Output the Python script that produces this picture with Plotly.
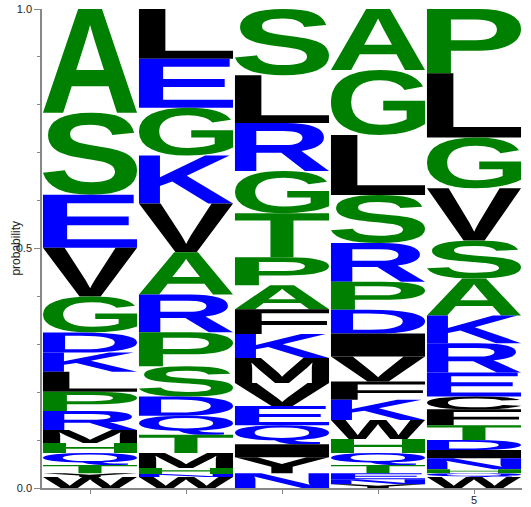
import glob
import struct
import subprocess
import plotly.graph_objects as go

# letter stacks per position, listed from the top of the column down
pos1_letters = ['A', 'S', 'E', 'V', 'G', 'D', 'K', 'L', 'P', 'R', 'M', 'H', 'Q', 'T', 'Y', 'W']
pos1_probs = [.217, .171, .111, .102, .075, .042, .040, .042, .040, .040, .027, .021, .025, .017, .008, .023]

pos2_letters = ['L', 'E', 'G', 'K', 'V', 'A', 'R', 'P', 'S', 'D', 'Q', 'T', 'M', 'H', 'N', 'W']
pos2_probs = [.104, .102, .100, .100, .102, .088, .079, .071, .063, .040, .040, .038, .031, .013, .006, .023]

pos3_letters = ['S', 'L', 'R', 'G', 'T', 'P', 'A', 'F', 'K', 'M', 'V', 'E', 'Q', 'I', 'Y', 'N']
pos3_probs = [.138, .100, .100, .088, .092, .058, .050, .052, .050, .052, .048, .040, .040, .027, .033, .031]

pos4_letters = ['A', 'G', 'L', 'S', 'R', 'P', 'D', 'I', 'V', 'F', 'K', 'W', 'H', 'Q', 'T', 'E', 'N', 'Y']
pos4_probs = [.127, .136, .125, .100, .081, .058, .050, .048, .052, .038, .042, .040, .029, .025, .017, .013, .010, .008]

pos5_letters = ['P', 'L', 'G', 'V', 'S', 'A', 'K', 'R', 'E', 'C', 'F', 'T', 'D', 'I', 'N', 'H', 'Q', 'W']
pos5_probs = [.134, .134, .106, .109, .079, .077, .058, .061, .050, .027, .033, .031, .021, .017, .023, .008, .008, .023]

positions = [1, 2, 3, 4, 5]
stacks = [(pos1_letters, pos1_probs), (pos2_letters, pos2_probs), (pos3_letters, pos3_probs),
          (pos4_letters, pos4_probs), (pos5_letters, pos5_probs)]

GREEN, BLUE, BLACK = '#008000', '#0000ff', '#000000'
colors = {}
for c in 'ASGPTH':
    colors[c] = GREEN
for c in 'ERKDQN':
    colors[c] = BLUE
for c in 'LVMFIWYC':
    colors[c] = BLACK


def find_font():
    for pat in ['/usr/share/fonts/**/LiberationSans-Bold.ttf',
                '/usr/share/fonts/**/DejaVuSans-Bold.ttf',
                '/usr/local/share/fonts/**/*Bold.ttf']:
        r = glob.glob(pat, recursive=True)
        if r:
            return r[0]
    try:
        out = subprocess.run(['fc-match', '-f', '%{file}', 'Liberation Sans:bold'],
                             capture_output=True, text=True).stdout
        if out.endswith('.ttf'):
            return out
    except Exception:
        pass
    return None


# minimal truetype reader: glyph outlines for the letters we need
def load_glyphs(path, chars):
    data = open(path, 'rb').read()
    ntab = struct.unpack('>H', data[4:6])[0]
    tables = {}
    for i in range(ntab):
        tag, _, off, ln = struct.unpack('>4sIII', data[12 + 16 * i:28 + 16 * i])
        tables[tag.decode('latin1')] = off
    head = tables['head']
    locfmt = struct.unpack('>h', data[head + 50:head + 52])[0]
    maxp = tables['maxp']
    ng = struct.unpack('>H', data[maxp + 4:maxp + 6])[0]
    lo = tables['loca']
    if locfmt == 0:
        loca = [2 * v for v in struct.unpack('>%dH' % (ng + 1), data[lo:lo + 2 * (ng + 1)])]
    else:
        loca = list(struct.unpack('>%dI' % (ng + 1), data[lo:lo + 4 * (ng + 1)]))

    cm = tables['cmap']
    nsub = struct.unpack('>H', data[cm + 2:cm + 4])[0]
    f4 = None
    for i in range(nsub):
        pid, eid, off = struct.unpack('>HHI', data[cm + 4 + 8 * i:cm + 12 + 8 * i])
        if struct.unpack('>H', data[cm + off:cm + off + 2])[0] == 4:
            f4 = cm + off
            break
    s2 = struct.unpack('>H', data[f4 + 6:f4 + 8])[0]
    n = s2 // 2
    ends = struct.unpack('>%dH' % n, data[f4 + 14:f4 + 14 + s2])
    starts = struct.unpack('>%dH' % n, data[f4 + 16 + s2:f4 + 16 + 2 * s2])
    deltas = struct.unpack('>%dh' % n, data[f4 + 16 + 2 * s2:f4 + 16 + 3 * s2])
    rpos = f4 + 16 + 3 * s2
    ros = struct.unpack('>%dH' % n, data[rpos:rpos + s2])

    def gid(ch):
        code = ord(ch)
        for i in range(n):
            if starts[i] <= code <= ends[i]:
                if ros[i] == 0:
                    return (code + deltas[i]) & 0xFFFF
                a = rpos + 2 * i + ros[i] + 2 * (code - starts[i])
                g = struct.unpack('>H', data[a:a + 2])[0]
                return (g + deltas[i]) & 0xFFFF if g else 0
        return 0

    glyf = tables['glyf']
    result = {}
    for ch in chars:
        off = glyf + loca[gid(ch)]
        nc, xmin, ymin, xmax, ymax = struct.unpack('>hhhhh', data[off:off + 10])
        if nc <= 0:
            continue
        p = off + 10
        endpts = struct.unpack('>%dH' % nc, data[p:p + 2 * nc])
        p += 2 * nc
        ilen = struct.unpack('>H', data[p:p + 2])[0]
        p += 2 + ilen
        npts = endpts[-1] + 1
        flags = []
        while len(flags) < npts:
            f = data[p]
            p += 1
            flags.append(f)
            if f & 8:
                r = data[p]
                p += 1
                flags.extend([f] * r)
        coords = []
        for short, same in ((2, 16), (4, 32)):
            v, vals = 0, []
            for f in flags:
                if f & short:
                    d = data[p]
                    p += 1
                    v += d if f & same else -d
                elif not f & same:
                    v += struct.unpack('>h', data[p:p + 2])[0]
                    p += 2
                vals.append(v)
            coords.append(vals)
        xs, ys = coords
        contours, s = [], 0
        for e in endpts:
            contours.append([(xs[i], ys[i], flags[i] & 1) for i in range(s, e + 1)])
            s = e + 1
        result[ch] = (contours, (xmin, ymin, xmax, ymax))
    return result


def glyph_path(glyph, x0, x1, y0, y1):
    contours, (xmin, ymin, xmax, ymax) = glyph

    def tf(pt):
        return '%.5f,%.5f' % (x0 + (pt[0] - xmin) / (xmax - xmin) * (x1 - x0),
                              y0 + (pt[1] - ymin) / (ymax - ymin) * (y1 - y0))

    parts = []
    for pts in contours:
        k = next((i for i, q in enumerate(pts) if q[2]), None)
        if k is None:
            a, b = pts[0], pts[1]
            pts = [((a[0] + b[0]) / 2, (a[1] + b[1]) / 2, 1)] + pts[1:] + pts[:1]
        else:
            pts = pts[k:] + pts[:k]
        seg = ['M' + tf(pts[0])]
        prev = None
        for q in pts[1:] + pts[:1]:
            if q[2]:
                seg.append(('Q%s %s' % (tf(prev), tf(q))) if prev else 'L' + tf(q))
                prev = None
            else:
                if prev:
                    m = ((prev[0] + q[0]) / 2, (prev[1] + q[1]) / 2)
                    seg.append('Q%s %s' % (tf(prev), tf(m)))
                prev = q
        seg.append('Z')
        parts.append(''.join(seg))
    return ' '.join(parts)


font = find_font()
glyphs = load_glyphs(font, 'ACDEFGHIKLMNPQRSTVWY') if font else {}

fig = go.Figure()
# invisible trace so the axes exist
fig.add_trace(go.Scatter(x=positions, y=[0] * 5, mode='markers', marker=dict(opacity=0),
                         hoverinfo='skip', showlegend=False))

shapes = []
half = 0.49
for pos, (letters, probs) in zip(positions, stacks):
    total = sum(probs)
    top = 1.0
    for ch, pr in zip(letters, probs):
        h = pr / total
        bottom = top - h
        if ch in glyphs:
            shapes.append(dict(type='path', xref='x', yref='y',
                               path=glyph_path(glyphs[ch], pos - half, pos + half, bottom, top),
                               fillcolor=colors[ch], line=dict(width=0), layer='above'))
        else:
            shapes.append(dict(type='rect', xref='x', yref='y', x0=pos - half, x1=pos + half,
                               y0=bottom, y1=top, fillcolor=colors[ch], line=dict(width=0)))
        top = bottom

fig.update_layout(
    width=531, height=507,
    margin=dict(l=42, r=9, t=9, b=19),
    paper_bgcolor='white', plot_bgcolor='white',
    font=dict(family='Liberation Sans, Arial, sans-serif', size=11, color='#222'),
    shapes=shapes,
    showlegend=False,
)
fig.add_annotation(text='probability', xref='paper', yref='paper', x=-0.056, y=0.5,
                   textangle=-90, showarrow=False, font=dict(size=12),
                   xanchor='center', yanchor='middle')
fig.update_xaxes(range=[0.5, 5.5], tickvals=positions, ticktext=['', '', '', '', '5'],
                 ticks='outside', ticklen=4, tickcolor='#888', showline=True, linecolor='#888',
                 linewidth=1.5, showgrid=False, zeroline=False, fixedrange=True, automargin=False,
                 ticklabelstandoff=-3)
fig.update_yaxes(range=[0, 1], tickvals=[0, 0.5, 1], ticktext=['0.0', '0.5', '1.0'],
                 ticks='outside', ticklen=6, tickcolor='#888', showline=True, linecolor='#888',
                 linewidth=1.5, showgrid=False, zeroline=False, automargin=False, fixedrange=True,
                 minor=dict(dtick=0.1, ticks='outside', ticklen=3, tickcolor='#888'))

# drop the page's default body margin so the figure sits at the window corner
fig.write_html("out.html", config={'displayModeBar': False},
               post_script="document.body.style.margin='0';")
